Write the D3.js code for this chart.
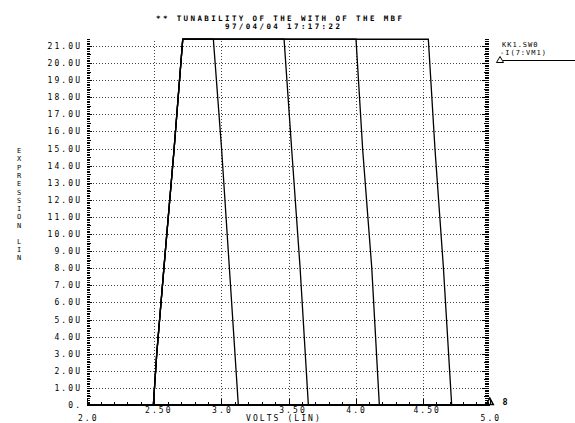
<!DOCTYPE html>
<html>
<head>
<meta charset="utf-8">
<script src="https://cdn.jsdelivr.net/npm/d3@7"></script>
<style>
body{margin:0;background:#fff}
svg{display:block}
text{font-family:"DejaVu Sans Mono",monospace;fill:#000}
</style>
</head>
<body>
<svg id="chart" width="575" height="423"></svg>
<script>
// sweep KK1.SW0, -I(7:VM1) against VOLTS, four runs share the rising edge
var riseVolts = [2.0, 2.493, 2.518, 2.572, 2.647, 2.712];
var riseAmps = [0, 0, 2.98, 8.05, 14.91, 21.39];
var fallAmps = [21.39, 14.91, 8.07, 0, 0];
var fallVolts1 = [2.940, 3.002, 3.059, 3.126, 5.0];
var fallVolts2 = [3.467, 3.524, 3.586, 3.648, 5.0];
var fallVolts3 = [4.003, 4.053, 4.120, 4.177, 5.0];
var fallVolts4 = [4.542, 4.592, 4.654, 4.716, 5.0];
var xTickLabels = ["2.0", "2.50", "3.0", "3.50", "4.0", "4.50", "5.0"];
var xTickValues = [2.0, 2.5, 3.0, 3.5, 4.0, 4.5, 5.0];
var yTickValues = d3.range(0, 22);
var yTitle = ["E","X","P","R","E","S","S","I","O","N"];
var yTitle2 = ["L","I","N"];

var svg = d3.select("#chart");
var x = d3.scaleLinear().domain([2, 5]).range([87.2, 489.8]);
var y = d3.scaleLinear().domain([0, 21.4]).range([405, 39.1]);

var FS = 8, PITCH = 6.9, LS = PITCH - FS * 0.602;

// dotted grid
var grid = svg.append("g").attr("stroke", "#444").attr("stroke-width", 1)
  .attr("stroke-dasharray", "1,2").attr("shape-rendering", "crispEdges");
grid.selectAll(".hg").data(yTickValues.slice(1)).enter().append("line")
  .attr("x1", x(2) + 3).attr("x2", x(5) - 4)
  .attr("y1", function (d) { return Math.round(y(d)) + 0.5; })
  .attr("y2", function (d) { return Math.round(y(d)) + 0.5; });
grid.selectAll(".vg").data(xTickValues.slice(1, -1)).enter().append("line")
  .attr("y1", y(0)).attr("y2", y(21.4))
  .attr("x1", function (d) { return Math.round(x(d)) + 0.5; })
  .attr("x2", function (d) { return Math.round(x(d)) + 0.5; });

// tick marks through d3 axes
function ticks(axisFn, scale, values, size, tx, ty) {
  svg.append("g").attr("transform", "translate(" + tx + "," + ty + ")")
    .call(axisFn(scale).tickValues(values).tickSize(size).tickFormat(""))
    .call(function (g) { g.select(".domain").remove(); })
    .selectAll("line").attr("shape-rendering", "crispEdges").attr("stroke", "#000");
}
var yAll = d3.range(0, 215).map(function (i) { return i / 10; });
var yMajor = yAll.filter(function (d, i) { return i % 10 === 0; });
var yMid = yAll.filter(function (d, i) { return i % 10 === 5; });
var yMinor = yAll.filter(function (d, i) { return i % 5 !== 0; });
ticks(d3.axisLeft, y, yMajor, -5, x(2), 0);
ticks(d3.axisLeft, y, yMid, -3.5, x(2), 0);
ticks(d3.axisLeft, y, yMinor, -2.5, x(2), 0);
ticks(d3.axisRight, y, yMajor, -7, x(5) - 1, 0);
ticks(d3.axisRight, y, yMid, -5, x(5) - 1, 0);
ticks(d3.axisRight, y, yMinor, -3.5, x(5) - 1, 0);
var xAll = d3.range(0, 31).map(function (i) { return 2 + i / 10; });
ticks(d3.axisBottom, x, xAll.filter(function (d, i) { return i % 5 === 0; }), -6, 0, y(0));
ticks(d3.axisBottom, x, xAll.filter(function (d, i) { return i % 5 !== 0; }), -3.5, 0, y(0));

// base line
svg.append("line").attr("x1", x(2)).attr("x2", x(5)).attr("y1", y(0)).attr("y2", y(0))
  .attr("stroke", "#000").attr("stroke-width", 2);

// curves
var line = d3.line().x(function (d) { return x(d[0]); }).y(function (d) { return y(d[1]); });
[fallVolts1, fallVolts2, fallVolts3, fallVolts4].forEach(function (fv) {
  var pts = d3.zip(riseVolts, riseAmps).concat(d3.zip(fv, fallAmps));
  svg.append("path").attr("d", line(pts)).attr("fill", "none")
    .attr("stroke", "#000").attr("stroke-width", 1.3);
});

// text helpers
function label(str, x0, yb, fs, ls, anchor) {
  return svg.append("text").attr("x", x0).attr("y", yb).attr("font-size", fs)
    .attr("letter-spacing", ls).attr("text-anchor", anchor || "start").text(str);
}

// y labels
yTickValues.forEach(function (k) {
  var s = k === 0 ? "0." : k + ".0U";
  label(s, 80 + LS, y(k) + 3, FS, LS, "end");
});

// x labels, decimal point on the tick
xTickValues.forEach(function (v, i) {
  var yb = (i === 0 || i === xTickValues.length - 1) ? 421 : 412.5;
  label(xTickLabels[i], x(v) - PITCH - FS * 0.301, yb, FS, LS);
});
label("VOLTS (LIN)", 246, 421, FS, LS);

// title, two tight lines
var TFS = 7.5;
label("** TUNABILITY OF THE WITH OF THE MBF", 156, 20.5, TFS, PITCH - TFS * 0.602).attr("font-weight", "bold");
label("97/04/04 17:17:22", 225, 28.5, TFS, PITCH - TFS * 0.602).attr("font-weight", "bold");

// y title, letters stacked
yTitle.forEach(function (c, i) {
  label(c, 19, 153 + i * 8.3, 7, 0, "middle");
});
yTitle2.forEach(function (c, i) {
  label(c, 19, 244 + i * 8.1, 7, 0, "middle");
});

// legend
label("KK1.SW0", 502, 46.5, 7, 1.0);
label("-I(7:VM1)", 500, 54.5, 7, 1.0);
svg.append("path").attr("d", "M496.5,62.5 L500,56.5 L503.5,62.5 Z")
  .attr("fill", "none").attr("stroke", "#000").attr("stroke-width", 1);
svg.append("line").attr("x1", 503).attr("x2", 575).attr("y1", 60.5).attr("y2", 60.5)
  .attr("stroke", "#000").attr("stroke-width", 1);

// end markers
svg.append("path").attr("d", "M" + (x(5) - 3.5) + ",404.5 L" + x(5) + ",398 L" + (x(5) + 3.5) + ",404.5 Z")
  .attr("fill", "none").attr("stroke", "#000").attr("stroke-width", 1.5);
label("8", 505, 404.5, 8.5, 0, "middle").attr("font-weight", "bold");
</script>
</body>
</html>
